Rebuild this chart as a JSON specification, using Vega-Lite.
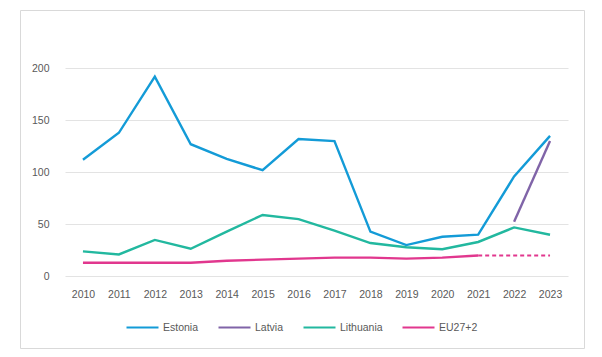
{
  "$schema": "https://vega.github.io/schema/vega-lite/v6.json",
  "autosize": {"type": "none"},
  "width": 564,
  "height": 338,
  "padding": {"left": 20, "top": 10, "right": 18, "bottom": 9},
  "background": "white",
  "config": {
    "view": {"stroke": "#d9d9d9", "strokeWidth": 1},
    "font": "Liberation Sans",
    "axis": {"labelFont": "Liberation Sans", "labelFontSize": 10.5, "labelColor": "#595959"},
    "legend": {"labelFont": "Liberation Sans", "labelFontSize": 10.5, "labelColor": "#595959"}
  },
  "data": {
    "values": [
      {"country": "Estonia", "year": 2010, "value": 112},
      {"country": "Estonia", "year": 2011, "value": 138},
      {"country": "Estonia", "year": 2012, "value": 192},
      {"country": "Estonia", "year": 2013, "value": 127},
      {"country": "Estonia", "year": 2014, "value": 113},
      {"country": "Estonia", "year": 2015, "value": 102},
      {"country": "Estonia", "year": 2016, "value": 132},
      {"country": "Estonia", "year": 2017, "value": 130},
      {"country": "Estonia", "year": 2018, "value": 43},
      {"country": "Estonia", "year": 2019, "value": 30},
      {"country": "Estonia", "year": 2020, "value": 38},
      {"country": "Estonia", "year": 2021, "value": 40},
      {"country": "Estonia", "year": 2022, "value": 96},
      {"country": "Estonia", "year": 2023, "value": 135},
      {"country": "Latvia", "year": 2022, "value": 52.5},
      {"country": "Latvia", "year": 2023, "value": 130},
      {"country": "Lithuania", "year": 2010, "value": 24},
      {"country": "Lithuania", "year": 2011, "value": 21},
      {"country": "Lithuania", "year": 2012, "value": 35},
      {"country": "Lithuania", "year": 2013, "value": 26.5},
      {"country": "Lithuania", "year": 2014, "value": 43},
      {"country": "Lithuania", "year": 2015, "value": 59},
      {"country": "Lithuania", "year": 2016, "value": 55},
      {"country": "Lithuania", "year": 2017, "value": 44},
      {"country": "Lithuania", "year": 2018, "value": 32},
      {"country": "Lithuania", "year": 2019, "value": 28},
      {"country": "Lithuania", "year": 2020, "value": 26},
      {"country": "Lithuania", "year": 2021, "value": 33},
      {"country": "Lithuania", "year": 2022, "value": 47},
      {"country": "Lithuania", "year": 2023, "value": 40},
      {"country": "EU27+2", "year": 2010, "value": 13},
      {"country": "EU27+2", "year": 2011, "value": 13},
      {"country": "EU27+2", "year": 2012, "value": 13},
      {"country": "EU27+2", "year": 2013, "value": 13},
      {"country": "EU27+2", "year": 2014, "value": 15},
      {"country": "EU27+2", "year": 2015, "value": 16},
      {"country": "EU27+2", "year": 2016, "value": 17},
      {"country": "EU27+2", "year": 2017, "value": 18},
      {"country": "EU27+2", "year": 2018, "value": 18},
      {"country": "EU27+2", "year": 2019, "value": 17},
      {"country": "EU27+2", "year": 2020, "value": 18},
      {"country": "EU27+2", "year": 2021, "value": 20},
      {"country": "EU27+2", "year": 2022, "value": 20},
      {"country": "EU27+2", "year": 2023, "value": 20}
    ]
  },
  "encoding": {
    "x": {
      "field": "year", "type": "ordinal",
      "scale": {"type": "point", "range": [45, 548], "padding": 0.5},
      "axis": {"title": null, "domain": false, "ticks": false, "labelAngle": 0, "offset": -72, "labelPadding": 13, "grid": false}
    },
    "y": {
      "field": "value", "type": "quantitative",
      "scale": {"domain": [0, 200], "range": [266.3, 58.3], "nice": false, "zero": true},
      "axis": {"title": null, "domain": false, "ticks": false, "values": [0, 50, 100, 150, 200], "offset": -29, "labelPadding": 0, "grid": true, "gridColor": "#e3e3e3", "gridWidth": 1}
    }
  },
  "layer": [
    {
      "transform": [{"filter": "datum.country != 'EU27+2' || datum.year <= 2021"}],
      "mark": {"type": "line", "strokeWidth": 2.4, "strokeCap": "butt"},
      "encoding": {
        "color": {
          "field": "country", "type": "nominal",
          "scale": {"domain": ["Estonia", "Latvia", "Lithuania", "EU27+2"], "range": ["#139bd7", "#8064a8", "#22b89f", "#e1378e"]},
          "legend": {
            "title": null, "orient": "none", "direction": "horizontal", "columns": 4,
            "legendX": 105, "legendY": 300,
            "symbolType": "stroke", "symbolSize": 1024, "symbolStrokeWidth": 2.2,
            "labelOffset": 3, "columnPadding": 15
          }
        },
        "detail": {"field": "country"}
      }
    },
    {
      "transform": [{"filter": "datum.country == 'EU27+2' && datum.year >= 2021"}],
      "mark": {"type": "line", "strokeWidth": 2.2, "color": "#e1378e", "strokeDash": [4, 3]},
      "encoding": {}
    }
  ]
}
